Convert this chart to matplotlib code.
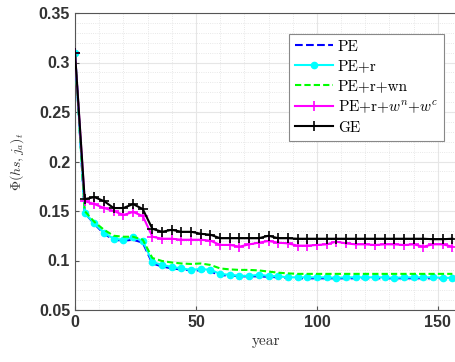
import matplotlib.pyplot as plt
import numpy as np
from matplotlib.ticker import MultipleLocator

plt.rcParams['mathtext.fontset'] = 'cm'

years = np.arange(0, 157, 4)

pe = [0.310, 0.148, 0.137, 0.127, 0.121, 0.120, 0.121, 0.118, 0.097, 0.094,
      0.092, 0.091, 0.090, 0.090, 0.089, 0.085, 0.085, 0.084, 0.084, 0.084,
      0.0835, 0.083, 0.0825, 0.082, 0.082, 0.082, 0.082, 0.082, 0.082, 0.082,
      0.082, 0.082, 0.082, 0.082, 0.082, 0.082, 0.082, 0.082, 0.082, 0.082]
pe_r = [0.310, 0.148, 0.1375, 0.128, 0.122, 0.121, 0.1235, 0.120, 0.0985, 0.0955,
        0.0935, 0.092, 0.0905, 0.0915, 0.0905, 0.0865, 0.0855, 0.0845, 0.0845, 0.0855,
        0.0845, 0.084, 0.083, 0.083, 0.083, 0.083, 0.083, 0.0825, 0.083, 0.083,
        0.083, 0.083, 0.083, 0.0825, 0.083, 0.083, 0.083, 0.083, 0.0825, 0.0825]
pe_r_wn = [0.310, 0.150, 0.139, 0.131, 0.125, 0.124, 0.124, 0.121, 0.1025, 0.0995,
           0.098, 0.097, 0.0965, 0.097, 0.0955, 0.092, 0.091, 0.0905, 0.0905, 0.090,
           0.0888, 0.0877, 0.087, 0.0865, 0.0865, 0.0865, 0.0865, 0.0865, 0.0865, 0.0865,
           0.0865, 0.0865, 0.0865, 0.0865, 0.0865, 0.0865, 0.0865, 0.0865, 0.0865, 0.0865]
pe_r_w = [0.310, 0.160, 0.157, 0.153, 0.150, 0.146, 0.149, 0.145, 0.124, 0.122,
          0.122, 0.121, 0.121, 0.121, 0.120, 0.1157, 0.1157, 0.114, 0.1163, 0.118,
          0.1197, 0.118, 0.1173, 0.115, 0.115, 0.1157, 0.1163, 0.119, 0.1173, 0.1163,
          0.1163, 0.1157, 0.1163, 0.1163, 0.1157, 0.1163, 0.114, 0.1163, 0.1163, 0.114]
ge = [0.310, 0.162, 0.164, 0.160, 0.153, 0.153, 0.157, 0.152, 0.132, 0.129,
      0.131, 0.129, 0.129, 0.127, 0.126, 0.1225, 0.1225, 0.1225, 0.1225, 0.1225,
      0.125, 0.1225, 0.1225, 0.122, 0.122, 0.122, 0.122, 0.122, 0.122, 0.122,
      0.122, 0.122, 0.122, 0.122, 0.122, 0.122, 0.122, 0.1215, 0.1215, 0.122]

fig = plt.figure(figsize=(4.56, 3.62), dpi=100)
ax = fig.add_axes([75/456, 1-310/362, 1-75/456, (310-13)/362])

ax.plot(years, pe, '--', color='#0000ff', lw=1.5, label='PE', zorder=3)
ax.plot(years, pe_r, '-', color='cyan', lw=1.5, marker='.', ms=9, label='PE+r', zorder=4)
ax.plot(years, pe_r_wn, '--', color='#00ff00', lw=1.5, dashes=(3, 1.5), label='PE+r+wn', zorder=5)
ax.plot(years, pe_r_w, '-', color='magenta', lw=1.5, marker='+', ms=7, mew=1.2,
        label='PE+r+$w^n$+$w^c$', zorder=6)
ax.plot(years, ge, '-', color='black', lw=1.5, marker='+', ms=7, mew=1.2, label='GE', zorder=7)

ax.set_xlim(0, 157.5)
ax.set_ylim(0.05, 0.35)
ax.xaxis.set_major_locator(MultipleLocator(50))
ax.xaxis.set_minor_locator(MultipleLocator(10))
ax.yaxis.set_minor_locator(MultipleLocator(0.01))
ax.set_yticks([0.05, 0.1, 0.15, 0.2, 0.25, 0.3, 0.35])
ax.set_yticklabels(['0.05', '0.1', '0.15', '0.2', '0.25', '0.3', '0.35'])
ax.grid(which='major', color='#e6e6e6', lw=0.8)
ax.grid(which='minor', color='#e0e0e0', lw=0.6, ls=':')
ax.set_axisbelow(True)
for s in ax.spines.values():
    s.set_color('#555555')
ax.tick_params(which='both', direction='in', color='#555555', length=3)
ax.tick_params(which='minor', length=0)
for lab in ax.get_xticklabels() + ax.get_yticklabels():
    lab.set_fontfamily('Liberation Sans')
    lab.set_fontweight('bold')
    lab.set_fontsize(11.5)
    lab.set_color('#333333')

ax.set_xlabel('year', family='cmr10', fontsize=11, color='#333333', labelpad=3)
ax.set_ylabel(r'$\Phi(hs,j_a)_t$', fontsize=10, color='#333333', labelpad=9)

leg = ax.legend(loc='upper left', bbox_to_anchor=(289/456, 1-34/362),
                bbox_transform=fig.transFigure,
                fancybox=False, edgecolor='#888888', framealpha=1, handlelength=2.5,
                borderpad=0.4, labelspacing=0.38, handletextpad=0.3, borderaxespad=0,
                prop={'family': 'cmr10', 'size': 11})
leg.get_frame().set_linewidth(0.8)

fig.savefig('out.png', dpi=100)
